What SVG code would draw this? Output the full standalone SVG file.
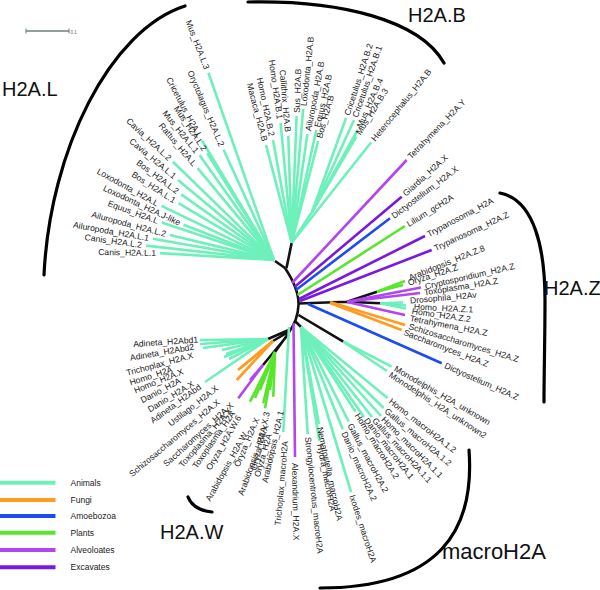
<svg xmlns="http://www.w3.org/2000/svg" width="600" height="590" viewBox="0 0 600 590">
<style>
.t{font-family:"Liberation Sans",Arial,sans-serif;font-size:8.6px;fill:#1a1a1a}
.e{text-anchor:end}
.big{font-family:"Liberation Sans",Arial,sans-serif;font-size:20px;fill:#111}
.lg{font-family:"Liberation Sans",Arial,sans-serif;font-size:8.5px;fill:#222}
line,path.br{fill:none;stroke-width:2.6;stroke-linecap:butt}
.an{stroke:#6ef0bb}.fu{stroke:#ff9b1e}.am{stroke:#1a4cf0}.pl{stroke:#58e62c}.al{stroke:#b146ef}.ex{stroke:#7a18de}.bk{stroke:#111}
.brk{fill:none;stroke:#000;stroke-width:3.2;stroke-linecap:round}
</style>
<rect width="600" height="590" fill="#fff"/>
<g id="scalebar">
<line x1="26" y1="31" x2="69" y2="31" style="stroke:#6d7f7f;stroke-width:1.4"/>
<line x1="26" y1="28.5" x2="26" y2="33.5" style="stroke:#6d7f7f;stroke-width:1"/>
<line x1="69" y1="28.5" x2="69" y2="33.5" style="stroke:#6d7f7f;stroke-width:1"/>
<text x="70.5" y="33.5" style="font-family:'Liberation Sans',sans-serif;font-size:4.5px;fill:#666">0.1</text>
</g>
<g id="brackets">
<path class="brk" d="M185,6 C110,30 50,150 44,275"/>
<path class="brk" d="M248,2 C340,0 420,20 444,63"/>
<path class="brk" d="M500,193 C535,200 545,250 545,300 C545,340 544,370 544,402"/>
<path class="brk" d="M469,450 C475,530 440,588 320,588"/>
<path class="brk" d="M188,497 Q193,510 212,512"/>
</g>
<g id="clade-labels">
<text class="big" x="2" y="96">H2A.L</text>
<text class="big" x="408" y="22">H2A.B</text>
<text class="big" x="544" y="295">H2A.Z</text>
<text class="big" x="160" y="539">H2A.W</text>
<text class="big" x="442" y="559" style="font-size:22px">macroH2A</text>
</g>
<g id="connectors">
<path class="br bk" d="M275,261 L285,268 M291.7,242.7 L286.5,268 M285,268 C293,280 299,293 298.5,305 C298,316 295,324 289,332"/>
<path class="br bk" d="M298.5,303.5 L347,301.7 M347,301.7 L377,291.7 M347,301.7 L380,303.3 M298.5,315 L343.3,341.7 M295,321 L301,327"/>
<path class="br bk" d="M291,329 L268,339 M290,331 L273,341 M288,334 L275,352 M287,336 L263,365"/>
<line class="an" x1="274" y1="260" x2="208.4" y2="72.7"/>
<line class="an" x1="274" y1="260" x2="223.6" y2="149.7"/>
<line class="an" x1="274" y1="260" x2="201.9" y2="140.5"/>
<line class="an" x1="274" y1="260" x2="207.2" y2="153.3"/>
<line class="an" x1="274" y1="260" x2="199.5" y2="155.1"/>
<line class="an" x1="274" y1="260" x2="197.6" y2="168.1"/>
<line class="an" x1="274" y1="260" x2="172.9" y2="161.7"/>
<line class="an" x1="274" y1="260" x2="178" y2="180"/>
<line class="an" x1="274" y1="260" x2="181.2" y2="194.4"/>
<line class="an" x1="274" y1="260" x2="178.4" y2="203.2"/>
<line class="an" x1="274" y1="260" x2="161.5" y2="205.9"/>
<line class="an" x1="274" y1="260" x2="183.6" y2="224.7"/>
<line class="an" x1="274" y1="260" x2="161.8" y2="222.4"/>
<line class="an" x1="274" y1="260" x2="169.9" y2="235"/>
<line class="an" x1="274" y1="260" x2="152.9" y2="238.7"/>
<line class="an" x1="274" y1="260" x2="146" y2="245.6"/>
<line class="an" x1="274" y1="260" x2="160" y2="253.1"/>
<line class="an" x1="291.7" y1="242.7" x2="266" y2="145"/>
<line class="an" x1="291.7" y1="242.7" x2="273" y2="140"/>
<line class="an" x1="291.7" y1="242.7" x2="280.6" y2="123"/>
<line class="an" x1="291.7" y1="242.7" x2="288.3" y2="136"/>
<line class="an" x1="291.7" y1="242.7" x2="296.6" y2="116"/>
<line class="an" x1="291.7" y1="242.7" x2="303.2" y2="109"/>
<line class="an" x1="291.7" y1="242.7" x2="307.4" y2="134"/>
<line class="an" x1="291.7" y1="242.7" x2="316.3" y2="130"/>
<line class="an" x1="291.7" y1="242.7" x2="318.2" y2="141"/>
<line class="an" x1="291.7" y1="242.7" x2="312" y2="212"/>
<line class="an" x1="312" y1="212" x2="346" y2="118"/>
<line class="an" x1="312" y1="212" x2="354" y2="120"/>
<line class="an" x1="312" y1="212" x2="357.8" y2="129.7"/>
<line class="an" x1="312" y1="212" x2="356.4" y2="136.5"/>
<line class="an" x1="291.7" y1="242.7" x2="371" y2="142.5"/>
<line class="al" x1="292" y1="283" x2="406.7" y2="160"/>
<line class="ex" x1="294.5" y1="287" x2="401.7" y2="196.7"/>
<line class="am" x1="296" y1="290" x2="390" y2="218.3"/>
<line class="pl" x1="297.5" y1="295" x2="405" y2="226"/>
<line class="ex" x1="299" y1="299" x2="425" y2="236"/>
<line class="ex" x1="300" y1="301" x2="431.7" y2="250"/>
<line class="pl" x1="377" y1="291.7" x2="405" y2="281"/>
<line class="pl" x1="377" y1="291.7" x2="403" y2="285"/>
<line class="al" x1="347" y1="301.7" x2="421" y2="287.5"/>
<line class="al" x1="347" y1="301.7" x2="420" y2="293"/>
<line class="an" x1="380" y1="303.3" x2="403" y2="302.5"/>
<line class="an" x1="380" y1="303.3" x2="406" y2="305.5"/>
<line class="an" x1="380" y1="303.3" x2="406" y2="308.5"/>
<line class="al" x1="347" y1="302" x2="405" y2="315"/>
<line class="fu" x1="330" y1="302" x2="405" y2="325"/>
<line class="fu" x1="330" y1="303" x2="401.7" y2="330"/>
<line class="am" x1="308" y1="304" x2="441.7" y2="363.3"/>
<line class="an" x1="343.3" y1="341.7" x2="391.7" y2="366.7"/>
<line class="an" x1="343.3" y1="341.7" x2="387" y2="371"/>
<line class="an" x1="301" y1="327" x2="387.6" y2="398"/>
<line class="an" x1="301" y1="327" x2="383.7" y2="408"/>
<line class="an" x1="301" y1="327" x2="381" y2="416"/>
<line class="an" x1="301" y1="327" x2="372" y2="417"/>
<line class="an" x1="301" y1="327" x2="364" y2="417"/>
<line class="an" x1="301" y1="327" x2="355.4" y2="411.5"/>
<line class="an" x1="301" y1="327" x2="348.6" y2="421.5"/>
<line class="an" x1="301" y1="327" x2="342.8" y2="429.3"/>
<line class="an" x1="301" y1="327" x2="351" y2="492"/>
<line class="an" x1="301" y1="327" x2="319" y2="424"/>
<line class="an" x1="301" y1="327" x2="319.4" y2="441"/>
<line class="an" x1="301" y1="327" x2="307.7" y2="434"/>
<line class="al" x1="293.5" y1="323" x2="295" y2="457"/>
<line class="an" x1="289" y1="327" x2="283.3" y2="432"/>
<line class="an" x1="268" y1="339" x2="200" y2="340"/>
<line class="an" x1="268" y1="339" x2="200" y2="344"/>
<line class="an" x1="268" y1="339" x2="203" y2="348"/>
<line class="an" x1="268" y1="339" x2="222" y2="350"/>
<line class="an" x1="268" y1="339" x2="226" y2="354"/>
<line class="an" x1="268" y1="339" x2="224" y2="357"/>
<line class="an" x1="268" y1="339" x2="229" y2="359"/>
<line class="an" x1="268" y1="339" x2="205" y2="382"/>
<line class="fu" x1="273" y1="341" x2="238" y2="370"/>
<line class="fu" x1="273" y1="341" x2="240.5" y2="368"/>
<line class="fu" x1="273" y1="341" x2="236.7" y2="380"/>
<line class="al" x1="263" y1="365" x2="238.3" y2="398.3"/>
<line class="al" x1="263" y1="365" x2="250" y2="380"/>
<line class="pl" x1="275" y1="352" x2="250" y2="401.7"/>
<line class="pl" x1="275" y1="352" x2="255" y2="398"/>
<line class="pl" x1="275" y1="352" x2="260" y2="390"/>
<line class="pl" x1="275" y1="352" x2="263.3" y2="403.3"/>
<line class="pl" x1="275" y1="352" x2="265" y2="408.3"/>
<line class="pl" x1="275" y1="352" x2="270" y2="390"/>
<line class="pl" x1="275" y1="352" x2="273.3" y2="396.7"/>
</g>
<g id="Mus_H2A.L.3"><text class="t e" dy=".35em" transform="translate(207,69) rotate(69)">Mus_H2A.L.3</text></g>
<g id="Oryctolagus_H2A.L.2"><text class="t e" dy=".35em" transform="translate(222,146) rotate(67)">Oryctolagus_H2A.L.2</text></g>
<g id="Cricetulus_H2A.L"><text class="t e" dy=".35em" transform="translate(200,137) rotate(62)">Cricetulus_H2A.L</text></g>
<g id="Mus_H2A.L.2"><text class="t e" dy=".35em" transform="translate(205,150) rotate(56)">Mus_H2A.L.2</text></g>
<g id="Mus_H2A.L.1"><text class="t e" dy=".35em" transform="translate(197,152) rotate(51)">Mus_H2A.L.1</text></g>
<g id="Rattus_H2A.L"><text class="t e" dy=".35em" transform="translate(195,165) rotate(50)">Rattus_H2A.L</text></g>
<g id="Cavia_H2A.L.2"><text class="t e" dy=".35em" transform="translate(170,159) rotate(43)">Cavia_H2A.L.2</text></g>
<g id="Cavia_H2A.L.1"><text class="t e" dy=".35em" transform="translate(175,177) rotate(40)">Cavia_H2A.L.1</text></g>
<g id="Bos_H2A.L.2"><text class="t e" dy=".35em" transform="translate(178,192) rotate(37)">Bos_H2A.L.2</text></g>
<g id="Bos_H2A.L.1"><text class="t e" dy=".35em" transform="translate(175,201) rotate(33)">Bos_H2A.L.1</text></g>
<g id="Loxodonta_H2A.L"><text class="t e" dy=".35em" transform="translate(158,204) rotate(29)">Loxodonta_H2A.L</text></g>
<g id="Loxodonta_H2A.J-like"><text class="t e" dy=".35em" transform="translate(180,223) rotate(25)">Loxodonta_H2A.J-like</text></g>
<g id="Equus_H2A.L"><text class="t e" dy=".35em" transform="translate(158,221) rotate(20)">Equus_H2A.L</text></g>
<g id="Ailuropoda_H2A.L.2"><text class="t e" dy=".35em" transform="translate(166,234) rotate(15)">Ailuropoda_H2A.L.2</text></g>
<g id="Ailuropoda_H2A.L.1"><text class="t e" dy=".35em" transform="translate(149,238) rotate(10)">Ailuropoda_H2A.L.1</text></g>
<g id="Canis_H2A.L.2"><text class="t e" dy=".35em" transform="translate(142,245) rotate(8)">Canis_H2A.L.2</text></g>
<g id="Canis_H2A.L.1"><text class="t e" dy=".35em" transform="translate(156,253) rotate(1)">Canis_H2A.L.1</text></g>
<g id="Macaca_H2A.B"><text class="t e" dy=".35em" transform="translate(265,141) rotate(75)">Macaca_H2A.B</text></g>
<g id="Homo_H2A.B.2"><text class="t e" dy=".35em" transform="translate(272,136) rotate(78)">Homo_H2A.B.2</text></g>
<g id="Homo_H2A.B.1"><text class="t e" dy=".35em" transform="translate(280,119) rotate(82)">Homo_H2A.B.1</text></g>
<g id="Callithrix_H2A.B"><text class="t e" dy=".35em" transform="translate(288,132) rotate(85)">Callithrix_H2A.B</text></g>
<g id="Sus_H2A.B"><text class="t" dy=".35em" transform="translate(296.7,113) rotate(-88)">Sus_H2A.B</text></g>
<g id="Loxodonta_H2A.B"><text class="t" dy=".35em" transform="translate(303.5,106) rotate(-84)">Loxodonta_H2A.B</text></g>
<g id="Ailuropoda_H2A.B"><text class="t" dy=".35em" transform="translate(308,131) rotate(-79)">Ailuropoda_H2A.B</text></g>
<g id="Equus_H2A.B"><text class="t" dy=".35em" transform="translate(317,127) rotate(-77)">Equus_H2A.B</text></g>
<g id="Bos_H2A.B"><text class="t" dy=".35em" transform="translate(319,138) rotate(-74)">Bos_H2A.B</text></g>
<g id="Cricetulus_H2A.B.2"><text class="t" dy=".35em" transform="translate(347,115) rotate(-72)">Cricetulus_H2A.B.2</text></g>
<g id="Cricetulus_H2A.B.1"><text class="t" dy=".35em" transform="translate(355,117) rotate(-71)">Cricetulus_H2A.B.1</text></g>
<g id="Mus_H2A.B.4"><text class="t" dy=".35em" transform="translate(359,127) rotate(-66)">Mus_H2A.B.4</text></g>
<g id="Mus_H2A.B.3"><text class="t" dy=".35em" transform="translate(358,134) rotate(-58)">Mus_H2A.B.3</text></g>
<g id="Heterocephalus_H2A.B"><text class="t" dy=".35em" transform="translate(373,140) rotate(-51)">Heterocephalus_H2A.B</text></g>
<g id="Tetrahymena_H2A.Y"><text class="t" dy=".35em" transform="translate(409,157.5) rotate(-46)">Tetrahymena_H2A.Y</text></g>
<g id="Giardia_H2A.X"><text class="t" dy=".35em" transform="translate(404,194.5) rotate(-42)">Giardia_H2A.X</text></g>
<g id="Dictyostelium_H2A.X"><text class="t" dy=".35em" transform="translate(392.5,216.5) rotate(-37)">Dictyostelium_H2A.X</text></g>
<g id="Lilium_gcH2A"><text class="t" dy=".35em" transform="translate(407.5,224.5) rotate(-32)">Lilium_gcH2A</text></g>
<g id="Trypanosoma_H2A"><text class="t" dy=".35em" transform="translate(427.5,234.5) rotate(-28)">Trypanosoma_H2A</text></g>
<g id="Trypanosoma_H2A.Z"><text class="t" dy=".35em" transform="translate(434.5,248.5) rotate(-25)">Trypanosoma_H2A.Z</text></g>
<g id="Arabidopsis_H2A.Z.8"><text class="t" dy=".35em" transform="translate(409,278) rotate(-22)">Arabidopsis_H2A.Z.8</text></g>
<g id="Oryza_H2A.Z"><text class="t" dy=".35em" transform="translate(408,283) rotate(-18)">Oryza_H2A.Z</text></g>
<g id="Cryptosporidium_H2A.Z"><text class="t" dy=".35em" transform="translate(425,286.5) rotate(-13)">Cryptosporidium_H2A.Z</text></g>
<g id="Toxoplasma_H2A.Z"><text class="t" dy=".35em" transform="translate(424,292.5) rotate(-9)">Toxoplasma_H2A.Z</text></g>
<g id="Drosophila_H2Av"><text class="t" dy=".35em" transform="translate(410,300.5) rotate(-5)">Drosophila_H2Av</text></g>
<g id="Homo_H2A.Z.1"><text class="t" dy=".35em" transform="translate(414,306.5) rotate(3)">Homo_H2A.Z.1</text></g>
<g id="Homo_H2A.Z.2"><text class="t" dy=".35em" transform="translate(412,311) rotate(8)">Homo_H2A.Z.2</text></g>
<g id="Tetrahymena_H2A.Z"><text class="t" dy=".35em" transform="translate(410,318) rotate(11)">Tetrahymena_H2A.Z</text></g>
<g id="Schizosaccharomyces_H2A.Z"><text class="t" dy=".35em" transform="translate(409,326) rotate(17)">Schizosaccharomyces_H2A.Z</text></g>
<g id="Saccharomyces_H2A.Z"><text class="t" dy=".35em" transform="translate(404,332) rotate(21)">Saccharomyces_H2A.Z</text></g>
<g id="Dictyostelium_H2A.Z"><text class="t" dy=".35em" transform="translate(445,365) rotate(24)">Dictyostelium_H2A.Z</text></g>
<g id="Monodelphis_H2A_unknown"><text class="t" dy=".35em" transform="translate(395,368) rotate(30)">Monodelphis_H2A_unknown</text></g>
<g id="Monodelphis_H2A_unknown2"><text class="t" dy=".35em" transform="translate(390,374) rotate(33)">Monodelphis_H2A_unknown2</text></g>
<g id="Homo_macroH2A.1.2"><text class="t" dy=".35em" transform="translate(390,400) rotate(38)">Homo_macroH2A.1.2</text></g>
<g id="Gallus_macroH2A.1.2"><text class="t" dy=".35em" transform="translate(386,410) rotate(40)">Gallus_macroH2A.1.2</text></g>
<g id="Homo_macroH2A.1.1"><text class="t" dy=".35em" transform="translate(383,418) rotate(45)">Homo_macroH2A.1.1</text></g>
<g id="Gallus_macroH2A.1.1"><text class="t" dy=".35em" transform="translate(374,419) rotate(48)">Gallus_macroH2A.1.1</text></g>
<g id="Danio_macroH2A.1"><text class="t" dy=".35em" transform="translate(366,419) rotate(52)">Danio_macroH2A.1</text></g>
<g id="Homo_macroH2A.2"><text class="t" dy=".35em" transform="translate(357,414) rotate(58)">Homo_macroH2A.2</text></g>
<g id="Gallus_macroH2A.2"><text class="t" dy=".35em" transform="translate(350,424) rotate(62)">Gallus_macroH2A.2</text></g>
<g id="Danio_macroH2A.2"><text class="t" dy=".35em" transform="translate(344,432) rotate(66)">Danio_macroH2A.2</text></g>
<g id="Ixodes_macroH2A"><text class="t" dy=".35em" transform="translate(352,495) rotate(72)">Ixodes_macroH2A</text></g>
<g id="Nematostella_macroH2A"><text class="t" dy=".35em" transform="translate(320,427) rotate(78)">Nematostella_macroH2A</text></g>
<g id="Hydra_macroH2A"><text class="t" dy=".35em" transform="translate(320,444) rotate(79)">Hydra_macroH2A</text></g>
<g id="Strongylocentrotus_macroH2A"><text class="t" dy=".35em" transform="translate(308,437) rotate(84)">Strongylocentrotus_macroH2A</text></g>
<g id="Alexandrium_H2A.X"><text class="t" dy=".35em" transform="translate(295,463) rotate(89)">Alexandrium_H2A.X</text></g>
<g id="Trichoplax_macroH2A"><text class="t e" dy=".35em" transform="translate(285,441) rotate(-85)">Trichoplax_macroH2A</text></g>
<g id="Adineta_H2Abd1"><text class="t e" dy=".35em" transform="translate(198,339.5) rotate(-4)">Adineta_H2Abd1</text></g>
<g id="Adineta_H2Abd2"><text class="t e" dy=".35em" transform="translate(194,346.5) rotate(-10)">Adineta_H2Abd2</text></g>
<g id="Trichoplax_H2A.X"><text class="t e" dy=".35em" transform="translate(193,355) rotate(-15)">Trichoplax_H2A.X</text></g>
<g id="Homo_H2A"><text class="t e" dy=".35em" transform="translate(172,369) rotate(-18)">Homo_H2A</text></g>
<g id="Homo_H2A.X"><text class="t e" dy=".35em" transform="translate(183,371) rotate(-22)">Homo_H2A.X</text></g>
<g id="Danio_H2A"><text class="t e" dy=".35em" transform="translate(180,380) rotate(-28)">Danio_H2A</text></g>
<g id="Danio_H2A.X"><text class="t e" dy=".35em" transform="translate(193,383) rotate(-31)">Danio_H2A.X</text></g>
<g id="Adineta_H2Abd"><text class="t e" dy=".35em" transform="translate(200,386) rotate(-36)">Adineta_H2Abd</text></g>
<g id="Ustilago_H2A.X"><text class="t e" dy=".35em" transform="translate(217,387) rotate(-38)">Ustilago_H2A.X</text></g>
<g id="Schizosaccharomyces_H2A.X"><text class="t e" dy=".35em" transform="translate(218.5,401) rotate(-40)">Schizosaccharomyces_H2A.X</text></g>
<g id="Saccharomyces_H2A.X"><text class="t e" dy=".35em" transform="translate(232,404) rotate(-42)">Saccharomyces_H2A.X</text></g>
<g id="Toxoplasma_H2A.X"><text class="t e" dy=".35em" transform="translate(230,409) rotate(-49)">Toxoplasma_H2A.X</text></g>
<g id="Toxoplasma_H2A"><text class="t e" dy=".35em" transform="translate(233,412) rotate(-55)">Toxoplasma_H2A</text></g>
<g id="Oryza_H2A.W.6"><text class="t e" dy=".35em" transform="translate(239,416) rotate(-60)">Oryza_H2A.W.6</text></g>
<g id="Arabidopsis_H2A.W"><text class="t e" dy=".35em" transform="translate(245,433) rotate(-61)">Arabidopsis_H2A.W</text></g>
<g id="Oryza_H2A.X"><text class="t e" dy=".35em" transform="translate(257,418) rotate(-67)">Oryza_H2A.X</text></g>
<g id="Arabidopsis_H2A.X"><text class="t e" dy=".35em" transform="translate(266,425) rotate(-70)">Arabidopsis_H2A.X</text></g>
<g id="Oryza_H2A.X.3"><text class="t e" dy=".35em" transform="translate(267,412) rotate(-77)">Oryza_H2A.X.3</text></g>
<g id="Oryza_H2A"><text class="t e" dy=".35em" transform="translate(269,434) rotate(-74)">Oryza_H2A</text></g>
<g id="Arabidopsis_H2A.1"><text class="t e" dy=".35em" transform="translate(281,411) rotate(-77)">Arabidopsis_H2A.1</text></g>
<g id="legend">
<line class="an" x1="0" y1="482.7" x2="55.5" y2="482.7" style="stroke-width:4"/>
<line class="fu" x1="0" y1="500" x2="55.5" y2="500" style="stroke-width:4"/>
<line class="am" x1="0" y1="516" x2="55.5" y2="516" style="stroke-width:4"/>
<line class="pl" x1="0" y1="532.7" x2="55.5" y2="532.7" style="stroke-width:4"/>
<line class="al" x1="0" y1="550" x2="55.5" y2="550" style="stroke-width:4"/>
<line class="ex" x1="0" y1="567.3" x2="55.5" y2="567.3" style="stroke-width:4"/>
<text class="lg" x="70.5" y="485.5">Animals</text>
<text class="lg" x="70.5" y="503">Fungi</text>
<text class="lg" x="70.5" y="519">Amoebozoa</text>
<text class="lg" x="70.5" y="535.7">Plants</text>
<text class="lg" x="70.5" y="553">Alveoloates</text>
<text class="lg" x="70.5" y="570.3">Excavates</text>
</g>
</svg>
